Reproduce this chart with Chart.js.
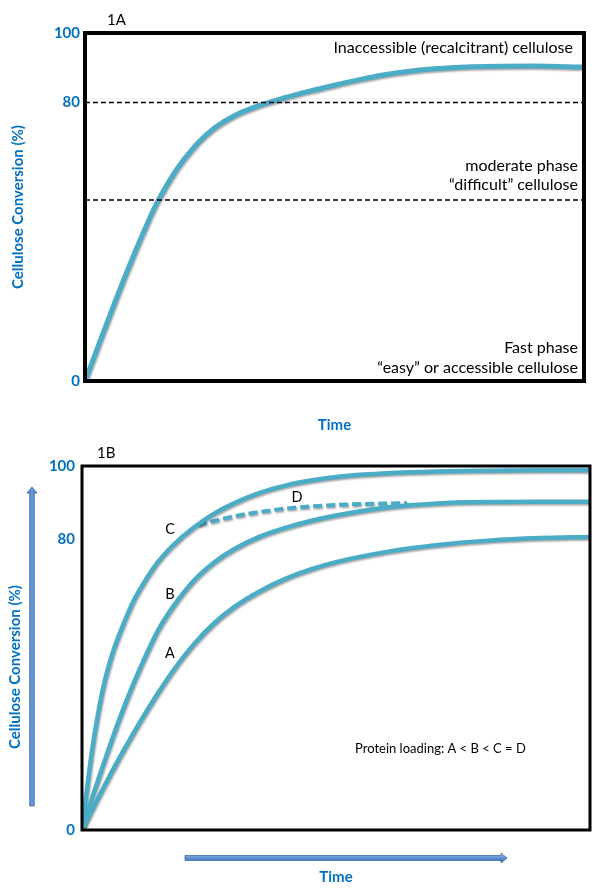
<!DOCTYPE html>
<html><head><meta charset="utf-8">
<script src="https://cdn.jsdelivr.net/npm/chart.js@4.4.0/dist/chart.umd.min.js"></script>
<style>
html,body{margin:0;padding:0;background:#fff;width:600px;height:892px;overflow:hidden}
canvas{position:absolute;left:0}
#c1{top:0}
#c2{top:445px}
</style></head><body>
<canvas id="c1" width="600" height="445"></canvas>
<canvas id="c2" width="600" height="447"></canvas>
<script>
// ---------- data ----------
const yTickValues = [0, 80, 100];
const timeRange = [0, 100];

// Panel 1A
const timeA = [0,2,4,6,8,10,12,14,16,18,20,23,26,30,35,40,45,50,55,60,65,70,80,90,100];
const conversionA = [0,7.6,15.2,22.7,30,37,43.7,50,55.3,60,64,69,72.8,76.3,79.2,81.4,83.3,85,86.6,88,89,89.7,90.4,90.5,90.2];
const boundaryRecalcitrant = [80, 80];
const boundaryDifficult = [52, 52];

// Panel 1B
const timeB = [0,2,4,6,8,10,12,15,18,22,26,30,35,40,45,50,60,70,80,90,100];
const loadingA = [0,5.5,11,16.3,21.4,26.3,31,37.7,43.9,51,56.8,61.3,65.6,69,71.6,73.6,76.4,78.3,79.5,80.2,80.5];
const loadingB = [0,8.8,17.2,25.2,32.8,39.8,46.2,54.9,61.5,68.5,73.5,77.2,80.6,83,84.9,86.4,88.6,89.7,90.1,90.2,90.2];
const loadingC = [0,22,38,48.5,56,62.5,67.5,73.7,78.3,83.1,86.9,89.8,92.6,94.6,96,97,98,98.5,98.7,98.8,98.8];
const timeD = [22.8,30,40,50,64];
const loadingD = [83.8,86.2,88.3,89.3,89.8];

// ---------- styles ----------
const BLUE = '#0070C0';
const CURVE = '#4BACC6';
const FONT = 'Lato, "Open Sans", sans-serif';
Chart.defaults.font.family = FONT;
Chart.defaults.animation = false;

function pts(xs, ys){ return xs.map((x,i)=>({x:x, y:ys[i]})); }

function curve(data, w, extra){
  return Object.assign({data:data, borderColor:CURVE, borderWidth:w, pointRadius:0,
    fill:false, cubicInterpolationMode:'monotone', shadow:true}, extra||{});
}

function txt(ctx, s, x, y, font, align, color){
  ctx.save(); ctx.font = font; ctx.fillStyle = color || '#000';
  ctx.textAlign = align || 'left'; ctx.textBaseline = 'middle';
  ctx.fillText(s, x, y); ctx.restore();
}

function arrowPath(ctx, p){
  ctx.beginPath(); ctx.moveTo(p[0][0], p[0][1]);
  for (let i=1;i<p.length;i++) ctx.lineTo(p[i][0], p[i][1]);
  ctx.closePath();
}
function hArrow(ctx, x1, x2, y, t, hw, hl){
  const g = ctx.createLinearGradient(0, y-hw/2, 0, y+hw/2);
  g.addColorStop(0,'#A9C8EC'); g.addColorStop(0.5,'#5B8FD0'); g.addColorStop(1,'#3A6AAE');
  arrowPath(ctx, [[x1,y-t/2],[x2-hl,y-t/2],[x2-hl,y-hw/2],[x2,y],[x2-hl,y+hw/2],[x2-hl,y+t/2],[x1,y+t/2]]);
  ctx.fillStyle = g; ctx.fill(); ctx.strokeStyle='#3E6BA8'; ctx.lineWidth=0.8; ctx.stroke();
}
function vArrow(ctx, x, y1, y2, t, hw, hl){ // y1 bottom, y2 tip
  const g = ctx.createLinearGradient(x-hw/2, 0, x+hw/2, 0);
  g.addColorStop(0,'#3A6AAE'); g.addColorStop(0.5,'#6E9FDB'); g.addColorStop(1,'#3A6AAE');
  arrowPath(ctx, [[x-t/2,y1],[x-t/2,y2+hl],[x-hw/2,y2+hl],[x,y2],[x+hw/2,y2+hl],[x+t/2,y2+hl],[x+t/2,y1]]);
  ctx.fillStyle = g; ctx.fill(); ctx.strokeStyle='#3E6BA8'; ctx.lineWidth=0.8; ctx.stroke();
}

function shadowPlugin(){
  return {
    id:'shadow',
    beforeDatasetDraw(chart, args){
      if (chart.data.datasets[args.index].shadow){
        const c = chart.ctx; c.save();
        c.shadowColor='rgba(0,0,0,0.35)'; c.shadowBlur=2; c.shadowOffsetX=1; c.shadowOffsetY=1.5;
      }
    },
    afterDatasetDraw(chart, args){
      if (chart.data.datasets[args.index].shadow) chart.ctx.restore();
    }
  };
}
function framePlugin(lw){
  return {
    id:'frame',
    afterDatasetsDraw(chart){
      const a = chart.chartArea, c = chart.ctx;
      c.save(); c.strokeStyle='#000'; c.lineWidth=lw;
      c.strokeRect(a.left, a.top, a.right-a.left, a.bottom-a.top); c.restore();
    }
  };
}

function scalesFor(opts){
  return {
    x: { type:'linear', min:timeRange[0], max:timeRange[1],
      ticks:{display:false}, grid:{display:false, drawTicks:false}, border:{display:false},
      title:{display:true, text:'Time', color:BLUE, font:{size:15, weight:'bold'}, padding:{top:0, bottom:opts.timePad}},
      afterFit(s){ s.height = opts.xHeight; s.paddingLeft = 0; s.paddingRight = 0; } },
    y: { type:'linear', min:0, max:100,
      afterBuildTicks(s){ s.ticks = yTickValues.map(v=>({value:v})); },
      ticks:{color:BLUE, font:{size:15, weight:'bold'}, padding:opts.tickPad, autoSkip:false},
      grid:{display:false, drawTicks:false}, border:{display:false},
      title:{display:opts.yTitle, text:'Cellulose Conversion (%)', color:BLUE, font:{size:15, weight:'bold'}, padding:{top:9, bottom:0}},
      afterFit(s){ s.width = opts.yWidth; s.paddingTop = 0; s.paddingBottom = 0; } }
  };
}

// ---------- Panel 1A ----------
new Chart(document.getElementById('c1'), {
  type:'line',
  data:{ datasets:[
    { data: pts(timeRange, boundaryRecalcitrant), borderColor:'#000', borderWidth:1.5, borderDash:[5,3], pointRadius:0, fill:false },
    { data: pts(timeRange, boundaryDifficult), borderColor:'#000', borderWidth:1.5, borderDash:[5,3], pointRadius:0, fill:false },
    curve(pts(timeA, conversionA), 5)
  ]},
  options:{
    responsive:false, devicePixelRatio:1, animation:false,
    layout:{padding:{top:33, right:16, bottom:0, left:0}},
    plugins:{legend:{display:false}, tooltip:{enabled:false}},
    scales: scalesFor({xHeight:64, yWidth:85, tickPad:5, timePad:11, yTitle:true})
  },
  plugins:[shadowPlugin(), framePlugin(4), {
    id:'labels1A',
    afterDraw(chart){
      const c = chart.ctx, f = '16px ' + FONT;
      txt(c, '1A', 107, 20, '15px ' + FONT);
      txt(c, 'Inaccessible (recalcitrant) cellulose', 573, 48, f, 'right');
      txt(c, 'moderate phase', 578, 166, f, 'right');
      txt(c, '\u201Cdifficult\u201D cellulose', 578, 185, f, 'right');
      txt(c, 'Fast phase', 578, 348, f, 'right');
      txt(c, '\u201Ceasy\u201D or accessible cellulose', 578, 368, f, 'right');
    }
  }]
});

// ---------- Panel 1B ----------
new Chart(document.getElementById('c2'), {
  type:'line',
  data:{ datasets:[
    curve(pts(timeB, loadingA), 4.5),
    curve(pts(timeB, loadingB), 4.5),
    curve(pts(timeB, loadingC), 4.5),
    curve(pts(timeD, loadingD), 4, {borderDash:[9,4]})
  ]},
  options:{
    responsive:false, devicePixelRatio:1, animation:false,
    layout:{padding:{top:21, right:10, bottom:0, left:0}},
    plugins:{legend:{display:false}, tooltip:{enabled:false}},
    scales: scalesFor({xHeight:62, yWidth:82, tickPad:7, timePad:6, yTitle:false})
  },
  plugins:[shadowPlugin(), framePlugin(3), {
    id:'labels1B',
    afterDraw(chart){
      const c = chart.ctx, f = '14.5px ' + FONT;
      txt(c, '1B', 97, 8, '15px ' + FONT);
      txt(c, 'C', 170, 84, f, 'center');
      txt(c, 'B', 170, 149, f, 'center');
      txt(c, 'A', 170, 208, f, 'center');
      txt(c, 'D', 297, 52, f, 'center');
      txt(c, 'Protein loading: A < B < C = D', 355, 304, '13px ' + FONT);
      c.save(); c.translate(15, 222); c.rotate(-Math.PI/2);
      txt(c, 'Cellulose Conversion (%)', 0, 0, 'bold 15px ' + FONT, 'center', BLUE);
      c.restore();
      vArrow(c, 32, 361, 42, 4.5, 10, 6);
      hArrow(c, 185, 507, 413, 5, 10, 6);
    }
  }]
});
</script>
</body></html>
